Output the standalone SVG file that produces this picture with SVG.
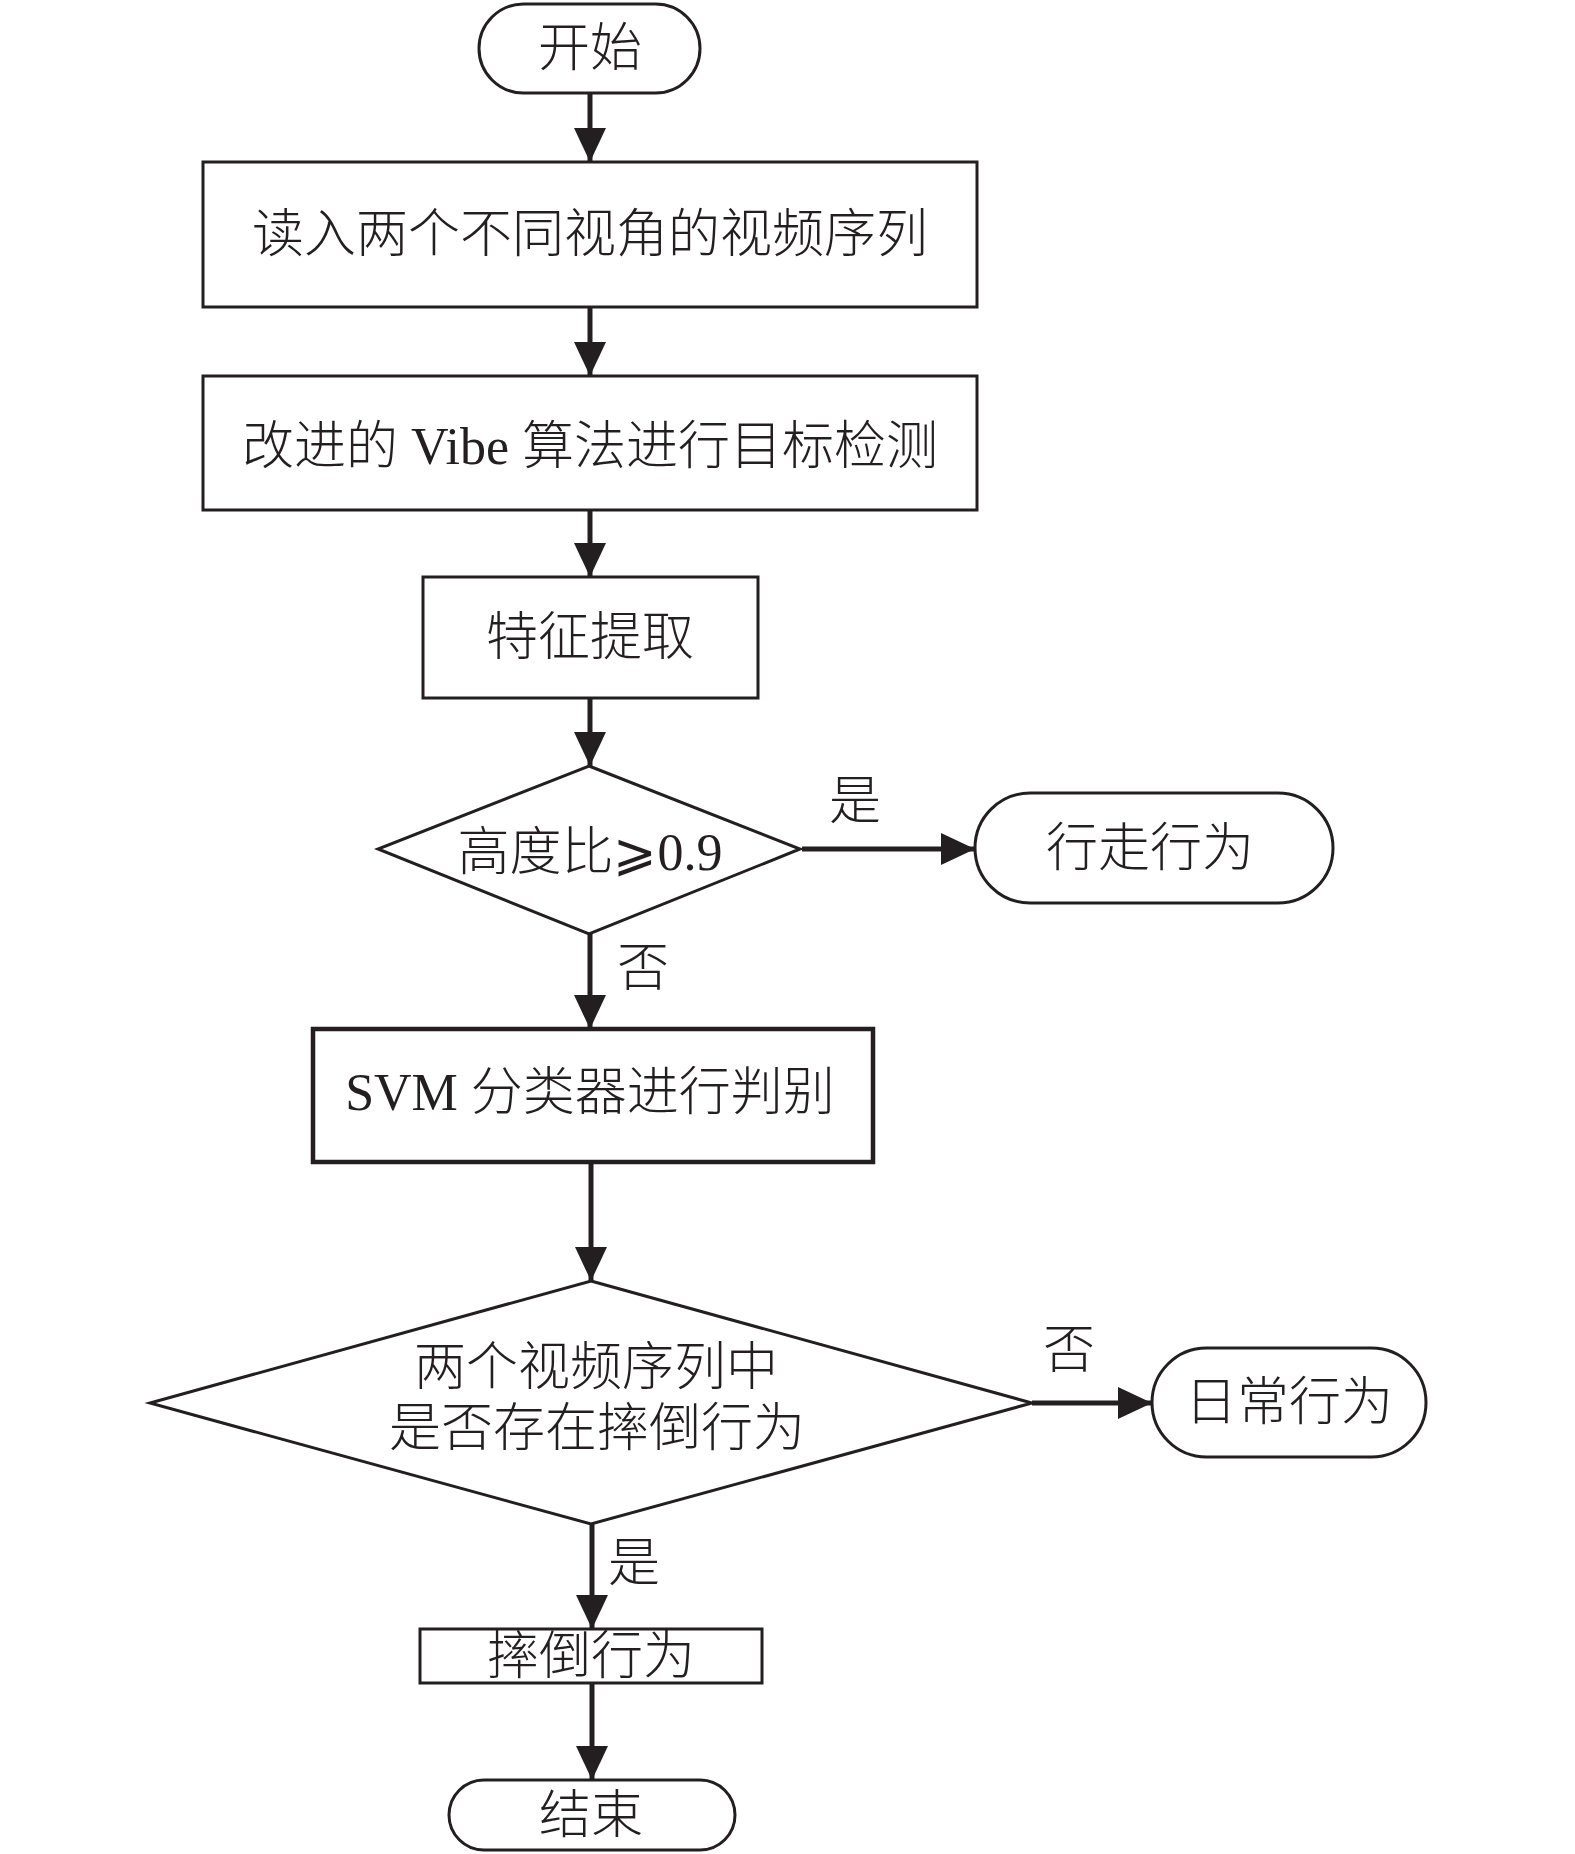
<svg xmlns="http://www.w3.org/2000/svg" width="1575" height="1854" viewBox="0 0 1575 1854">
<style>
.n{fill:#fff;stroke:#231f20;stroke-width:3}
.thick{stroke-width:4.5}
.t{font-family:"Liberation Serif","Noto Sans CJK SC",serif;font-size:52px;font-weight:300;fill:#231f20;text-anchor:middle;dominant-baseline:central}
.c{stroke:#231f20;stroke-width:5;fill:none}
</style>
<defs>
<marker id="ah" markerUnits="userSpaceOnUse" markerWidth="36" markerHeight="34" refX="34" refY="16" orient="auto">
<path d="M0,0 L34,16 L0,32 z" fill="#231f20"/>
</marker>
</defs>
<rect width="1575" height="1854" fill="#fff"/>
<g id="connectors">
<line class="c" x1="590" y1="93" x2="590" y2="162" marker-end="url(#ah)"/>
<line class="c" x1="590" y1="307" x2="590" y2="376" marker-end="url(#ah)"/>
<line class="c" x1="590" y1="510" x2="590" y2="577" marker-end="url(#ah)"/>
<line class="c" x1="590" y1="698" x2="590" y2="766" marker-end="url(#ah)"/>
<line class="c" x1="802" y1="849" x2="975" y2="849" marker-end="url(#ah)"/>
<line class="c" x1="590" y1="934" x2="590" y2="1029" marker-end="url(#ah)"/>
<line class="c" x1="591" y1="1162" x2="591" y2="1281" marker-end="url(#ah)"/>
<line class="c" x1="1032" y1="1403" x2="1152" y2="1403" marker-end="url(#ah)"/>
<line class="c" x1="592" y1="1524" x2="592" y2="1629" marker-end="url(#ah)"/>
<line class="c" x1="592" y1="1683" x2="592" y2="1780" marker-end="url(#ah)"/>
<text class="t" x="855" y="801">是</text>
<text class="t" x="643" y="968">否</text>
<text class="t" x="1069" y="1350">否</text>
<text class="t" x="634" y="1563">是</text>
</g>
<g id="start">
<rect class="n" x="479" y="4" width="221" height="89" rx="44.5"/>
<text class="t" x="590" y="48">开始</text>
</g>
<g id="read">
<rect class="n" x="203" y="162" width="774" height="145"/>
<text class="t" x="590" y="234">读入两个不同视角的视频序列</text>
</g>
<g id="detect">
<rect class="n" x="203" y="376" width="774" height="134"/>
<text class="t" x="590" y="446">改进的 Vibe 算法进行目标检测</text>
</g>
<g id="feature">
<rect class="n" x="423" y="577" width="335" height="121"/>
<text class="t" x="590" y="637">特征提取</text>
</g>
<g id="ratio">
<polygon class="n" points="589,766 800,849 589,934 378,849"/>
<text class="t" x="590" y="852">高度比⩾0.9</text>
</g>
<g id="walk">
<rect class="n" x="975" y="793" width="358" height="110" rx="55"/>
<text class="t" x="1150" y="848">行走行为</text>
</g>
<g id="svm">
<rect class="n thick" x="313" y="1029" width="560" height="133"/>
<text class="t" x="590" y="1092">SVM 分类器进行判别</text>
</g>
<g id="fall-check">
<polygon class="n" points="591,1281 1032,1403 591,1524 150,1403"/>
<text class="t" x="596" y="1367">两个视频序列中</text>
<text class="t" x="597" y="1428">是否存在摔倒行为</text>
</g>
<g id="daily">
<rect class="n" x="1152" y="1348" width="274" height="109" rx="54.5"/>
<text class="t" x="1289" y="1402">日常行为</text>
</g>
<g id="fall">
<rect class="n" x="420" y="1629" width="342" height="54"/>
<text class="t" x="591" y="1656">摔倒行为</text>
</g>
<g id="end">
<rect class="n" x="449" y="1780" width="286" height="70" rx="35"/>
<text class="t" x="591" y="1815">结束</text>
</g>
</svg>
